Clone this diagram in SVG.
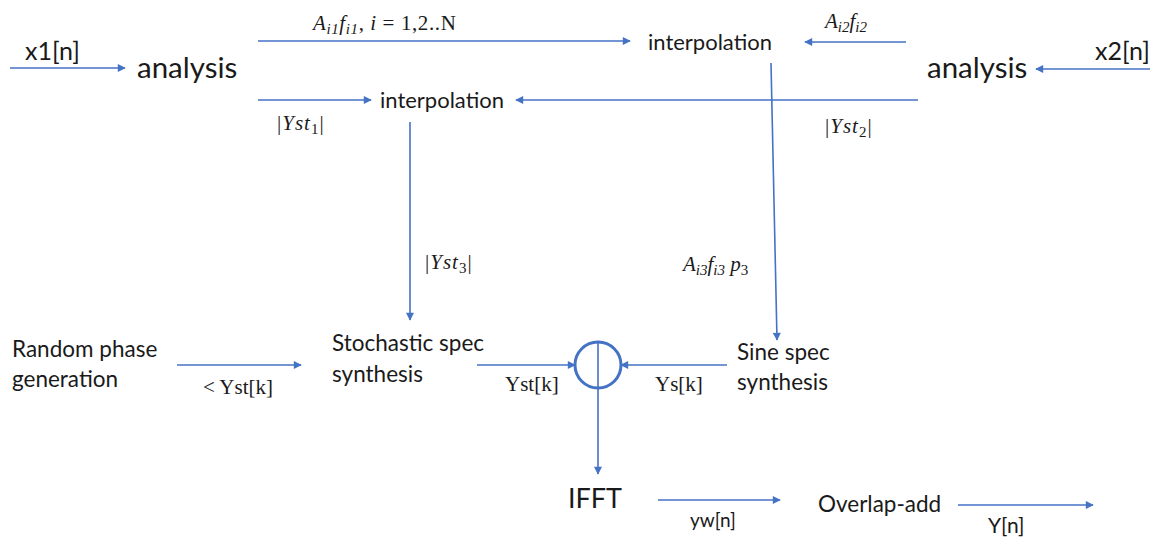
<svg xmlns="http://www.w3.org/2000/svg" width="1152" height="539" viewBox="0 0 1152 539">
<defs>
<marker id="ah" viewBox="0 0 10 10" refX="9" refY="5" markerWidth="9" markerHeight="8" orient="auto" markerUnits="userSpaceOnUse">
<path d="M0,0 L10,5 L0,10 z" fill="#4472C4"/>
</marker>
<style>
.t{font-family:Lato,"Open Sans","Liberation Sans",sans-serif;fill:#1a1a1a}
.m{font-family:"Liberation Serif","DejaVu Serif",serif;font-style:italic;fill:#1a1a1a;font-size:21px}
.r{font-style:normal}
.s{font-size:15px}
.c{stroke:#4472C4;stroke-width:1.6;fill:none}
.a{marker-end:url(#ah)}
</style>
</defs>
<rect width="1152" height="539" fill="#ffffff"/>
<g id="connectors">
<line class="c a" x1="10" y1="68" x2="125" y2="68"/>
<line class="c a" x1="258" y1="41" x2="630" y2="41"/>
<line class="c a" x1="906" y1="42" x2="805" y2="42"/>
<line class="c a" x1="1150" y1="69" x2="1036" y2="69"/>
<line class="c a" x1="258" y1="100" x2="371" y2="100"/>
<line class="c a" x1="918" y1="100" x2="516" y2="100"/>
<line class="c a" x1="410" y1="122" x2="410" y2="320"/>
<line class="c a" x1="771" y1="63" x2="777" y2="340"/>
<line class="c a" x1="177" y1="365" x2="301" y2="365"/>
<line class="c a" x1="477" y1="365" x2="575" y2="365"/>
<line class="c a" x1="727" y1="365" x2="621" y2="365"/>
<line class="c a" x1="598" y1="342" x2="598" y2="474"/>
<line class="c a" x1="658" y1="500" x2="780" y2="500"/>
<line class="c a" x1="958" y1="505" x2="1093" y2="505"/>
</g>
<g id="sum">
<circle cx="598" cy="365" r="23" fill="none" stroke="#4472C4" stroke-width="3"/>
</g>
<g id="labels">
<text class="t" x="25" y="60" font-size="25">x1[n]</text>
<text class="t" x="1095" y="60" font-size="25">x2[n]</text>
<text class="m" x="313" y="30" font-size="22" letter-spacing="0.6">A<tspan class="s" dy="4">i1</tspan><tspan dy="-4">f</tspan><tspan class="s" dy="4">i1</tspan><tspan class="r" dy="-4">, </tspan>i<tspan class="r"> = 1,2..N</tspan></text>
<text class="m" x="825" y="28">A<tspan class="s" dy="4">i2</tspan><tspan dy="-4">f</tspan><tspan class="s" dy="4">i2</tspan></text>
<text class="m" x="277" y="130" letter-spacing="1"><tspan class="r">|</tspan>Yst<tspan class="s r" dy="4">1</tspan><tspan class="r" dy="-4">|</tspan></text>
<text class="m" x="825" y="133" letter-spacing="1"><tspan class="r">|</tspan>Yst<tspan class="s r" dy="4">2</tspan><tspan class="r" dy="-4">|</tspan></text>
<text class="m" x="425" y="269" letter-spacing="1"><tspan class="r">|</tspan>Yst<tspan class="s r" dy="4">3</tspan><tspan class="r" dy="-4">|</tspan></text>
<text class="m" x="683" y="271" font-size="22">A<tspan class="s" dy="4">i3</tspan><tspan dy="-4">f</tspan><tspan class="s" dy="4">i3</tspan><tspan dy="-4"> p</tspan><tspan class="s r" dy="4">3</tspan></text>
<text class="m r" x="203" y="394" style="font-style:normal">&lt; Yst[k]</text>
<text class="m r" x="505" y="391" style="font-style:normal">Yst[k]</text>
<text class="m r" x="655" y="391" style="font-style:normal">Ys[k]</text>
<text class="t" x="690" y="527" font-size="19">yw[n]</text>
<text class="t" x="988" y="533" font-size="21">Y[n]</text>
</g>
<g id="analysis1"><text class="t" x="137" y="78" font-size="29.5">analysis</text></g>
<g id="analysis2"><text class="t" x="927" y="78" font-size="29.5">analysis</text></g>
<g id="interp1"><text class="t" x="648" y="50" font-size="22">interpolation</text></g>
<g id="interp2"><text class="t" x="380" y="108" font-size="22">interpolation</text></g>
<g id="random"><text class="t" x="12" y="357" font-size="22.5">Random phase</text><text class="t" x="12" y="387" font-size="22.5">generation</text></g>
<g id="stoch"><text class="t" x="332" y="351" font-size="22.5">Stochastic spec</text><text class="t" x="332" y="382" font-size="22.5">synthesis</text></g>
<g id="sine"><text class="t" x="737" y="360" font-size="22.5">Sine spec</text><text class="t" x="737" y="390" font-size="22.5">synthesis</text></g>
<g id="ifft"><text class="t" x="568" y="508" font-size="27">IFFT</text></g>
<g id="ola"><text class="t" x="818" y="512" font-size="22.5">Overlap-add</text></g>
</svg>
